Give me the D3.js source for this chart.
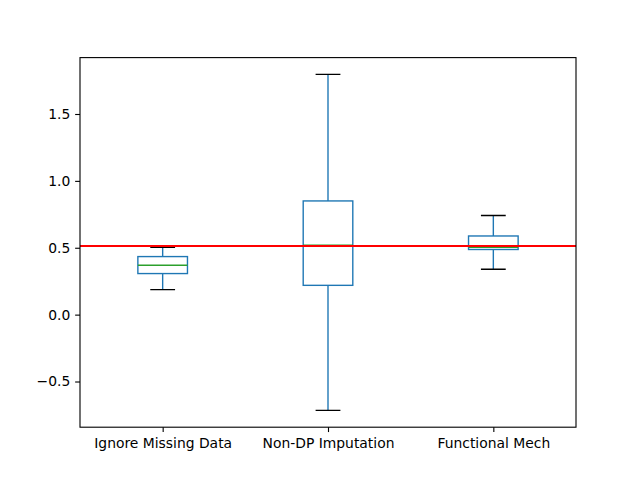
<!DOCTYPE html>
<html>
<head>
<meta charset="utf-8">
<script src="https://cdn.jsdelivr.net/npm/d3@7"></script>
<style>
  html, body { margin: 0; padding: 0; background: #fff; }
  svg { display: block; }
  text { font-family: "DejaVu Sans", sans-serif; font-size: 13.89px; fill: #000; }
</style>
</head>
<body>
<svg id="chart" width="640" height="480"></svg>
<script>
// Data
const categories = ["Ignore Missing Data", "Non-DP Imputation", "Functional Mech"];
const whiskerLow = [0.187, -0.716, 0.339];
const q1 = [0.307, 0.219, 0.487];
const medians = [0.369, 0.519, 0.504];
const q3 = [0.434, 0.850, 0.588];
const whiskerHigh = [0.504, 1.796, 0.741];
const referenceValue = 0.513;
const yTicks = [-0.5, 0.0, 0.5, 1.0, 1.5];

(function () {
const padL = 80, padR = 576, padT = 57.6, padB = 427.2;
const svg = d3.select("#chart");

const lo = d3.min(whiskerLow), hi = d3.max(whiskerHigh);
const m = (hi - lo) * 0.05;
const y = d3.scaleLinear().domain([lo - m, hi + m]).range([padB, padT]);
const x = d3.scaleLinear().domain([0.5, categories.length + 0.5]).range([padL, padR]);

const boxW = 0.3, capW = 0.15;
const blue = "#1f77b4", green = "#2ca02c";
const lw = 1.389;

svg.append("defs").append("clipPath").attr("id", "clip")
  .append("rect").attr("x", padL).attr("y", padT).attr("width", padR - padL).attr("height", padB - padT);

const g = svg.append("g").attr("clip-path", "url(#clip)");

categories.forEach((c, i) => {
  const p = i + 1;
  g.append("line").attr("x1", x(p)).attr("x2", x(p)).attr("y1", y(q1[i])).attr("y2", y(whiskerLow[i]))
    .attr("stroke", blue).attr("stroke-width", lw);
  g.append("line").attr("x1", x(p)).attr("x2", x(p)).attr("y1", y(q3[i])).attr("y2", y(whiskerHigh[i]))
    .attr("stroke", blue).attr("stroke-width", lw);
  [whiskerLow[i], whiskerHigh[i]].forEach(v => {
    g.append("line").attr("x1", x(p - capW / 2)).attr("x2", x(p + capW / 2)).attr("y1", y(v)).attr("y2", y(v))
      .attr("stroke", "#000").attr("stroke-width", lw);
  });
  g.append("rect").attr("x", x(p - boxW / 2)).attr("width", x(p + boxW / 2) - x(p - boxW / 2))
    .attr("y", y(q3[i])).attr("height", y(q1[i]) - y(q3[i]))
    .attr("fill", "none").attr("stroke", blue).attr("stroke-width", lw);
  g.append("line").attr("x1", x(p - boxW / 2)).attr("x2", x(p + boxW / 2)).attr("y1", y(medians[i])).attr("y2", y(medians[i]))
    .attr("stroke", green).attr("stroke-width", lw);
});

g.append("line").attr("x1", padL).attr("x2", padR).attr("y1", y(referenceValue)).attr("y2", y(referenceValue))
  .attr("stroke", "red").attr("stroke-width", 2.08);

const yAxis = d3.axisLeft(y).tickValues(yTicks).tickFormat(d3.format(".1f")).tickSize(4.86).tickPadding(4.86);
const ya = svg.append("g").attr("transform", `translate(${padL},0)`).call(yAxis);
const xAxis = d3.axisBottom(x).tickValues(categories.map((c, i) => i + 1)).tickFormat((d) => categories[d - 1]).tickSize(4.86).tickPadding(6.3);
const xa = svg.append("g").attr("transform", `translate(0,${padB})`).call(xAxis);
[ya, xa].forEach(a => {
  a.select(".domain").remove();
  a.selectAll(".tick line").attr("stroke", "#000").attr("stroke-width", 1.11);
  a.selectAll(".tick text").attr("font-family", "DejaVu Sans").attr("font-size", "13.89px").attr("fill", "#000");
});

svg.append("rect").attr("x", padL).attr("y", padT).attr("width", padR - padL).attr("height", padB - padT)
  .attr("fill", "none").attr("stroke", "#000").attr("stroke-width", 1.11);
})();
</script>
</body>
</html>
